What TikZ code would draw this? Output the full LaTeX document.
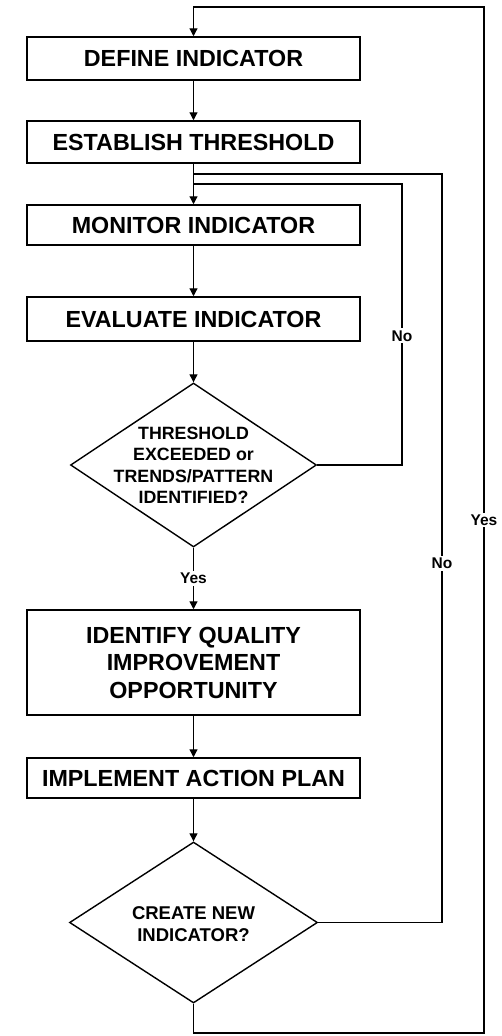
\documentclass[tikz,border=0pt]{standalone}
\usepackage{fontspec}
\setmainfont{Liberation Sans}
\usetikzlibrary{shapes.geometric,arrows.meta}
\newcommand{\dtext}[2]{\raisebox{-#1}[0pt][0pt]{\makebox[0pt]{\begin{tabular}{@{}c@{}}#2\end{tabular}}}}
\begin{document}
\begin{tikzpicture}[x=1pt,y=-1pt,
  box/.style={draw, line width=1.5pt, minimum width=333pt, inner sep=0pt, align=center,
    font=\bfseries\fontsize{23.3}{27.5}\selectfont},
  dia/.style={draw, diamond, line width=1.4pt, inner sep=0pt},
  conn/.style={line width=1.2pt},
  flow/.style={conn, -{Triangle[length=8pt,width=8pt]}},
  lab/.style={fill=white, inner sep=2pt, font=\bfseries\fontsize{15.5}{17}\selectfont}]
\useasboundingbox (0,0) rectangle (502,1036);

\node[box, minimum height=43pt] (def) at (193.5,58.5) {DEFINE INDICATOR};
\node[box, minimum height=42pt] (est) at (193.5,142) {ESTABLISH THRESHOLD};
\node[box, minimum height=40pt] (mon) at (193.5,225) {MONITOR INDICATOR};
\node[box, minimum height=44pt] (eva) at (193.5,319) {EVALUATE INDICATOR};
\node[dia, minimum width=246pt, minimum height=164pt,
  font=\bfseries\fontsize{17.8}{21.5}\selectfont] (d1) at (193.5,465)
  {\dtext{6.5pt}{THRESHOLD\\EXCEEDED or\\TRENDS/PATTERN\\IDENTIFIED?}};
\node[box, minimum height=105pt] (idf) at (193.5,662.5) {IDENTIFY QUALITY\\IMPROVEMENT\\OPPORTUNITY};
\node[box, minimum height=40pt] (imp) at (193.5,778) {IMPLEMENT ACTION PLAN};
\node[dia, minimum width=248pt, minimum height=161pt,
  font=\bfseries\fontsize{18.5}{22}\selectfont] (d2) at (193.5,922.5)
  {\dtext{8pt}{CREATE NEW\\INDICATOR?}};

\coordinate (j1) at (193.5,174);
\coordinate (j2) at (193.5,184);
\coordinate (n1) at (402,184);
\coordinate (n2) at (442,174);
\coordinate (y1) at (193.5,1033);
\coordinate (y2) at (484,7);
\coordinate (y3) at (193.5,7);

\draw[flow] (def) -- (est);
\draw[flow] (est) -- (mon);
\draw[flow] (mon) -- (eva);
\draw[flow] (eva) -- (d1);
\draw[flow] (d1) -- node[lab] {Yes} (idf);
\draw[flow] (idf) -- (imp);
\draw[flow] (imp) -- (d2);

\draw[conn] (d1.east) -| node[lab, pos=0.73] {No} (n1) -- (j2);
\draw[conn] (d2.east) -| node[lab, pos=0.74] {No} (n2) -- (j1);
\draw[flow] (d2.south) -- (y1) -| node[lab, pos=0.75] {Yes} (y2) -- (y3) -- (def);
\end{tikzpicture}
\end{document}
